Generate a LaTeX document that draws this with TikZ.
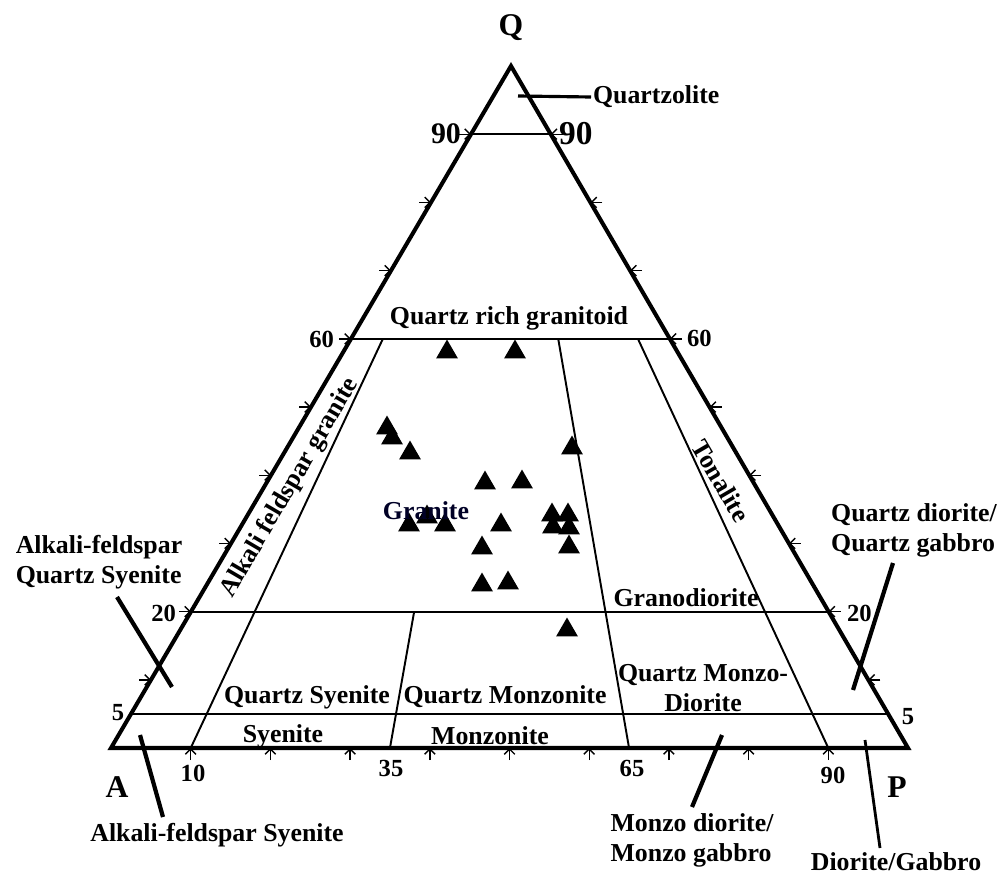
\documentclass[tikz,border=0pt]{standalone}
\usepackage{fontspec}
\setmainfont{Liberation Serif}
\usetikzlibrary{calc,arrows.meta,shapes.geometric}

\tikzset{
  lbl/.style={font=\fontsize{14.7}{17}\selectfont\bfseries, inner sep=1pt},
  num/.style={font=\fontsize{14}{16}\selectfont\bfseries, inner sep=1pt},
  corner/.style={font=\fontsize{18}{20}\selectfont\bfseries, inner sep=1pt},
  sample/.style={regular polygon, regular polygon sides=3, fill=black, inner sep=0pt, minimum size=0.5cm},
  tick/.style={-{Straight Barb[length=3pt,width=6pt]}, line width=0.8pt},
  leader/.style={line width=2.4pt},
  field/.style={line width=1.1pt},
}

\begin{document}
\begin{tikzpicture}[x=0.02cm, y=-0.02cm]
    \useasboundingbox (0,0) rectangle (1003,875);
    \coordinate (A) at (111,748);
    \coordinate (P) at (908,748);
    \coordinate (Q) at (511,66);

    % base points of the P/(A+P) lines
    \coordinate (b10) at ($(A)!0.10!(P)$);
    \coordinate (b35) at ($(A)!0.35!(P)$);
    \coordinate (b65) at ($(A)!0.65!(P)$);
    \coordinate (b90) at ($(A)!0.90!(P)$);

    % field boundaries
    \draw[field] ($(A)!0.90!(Q)$) -- ($(P)!0.90!(Q)$);
    \draw[field] ($(A)!0.60!(Q)$) -- ($(P)!0.60!(Q)$);
    \draw[field] ($(A)!0.20!(Q)$) -- ($(P)!0.20!(Q)$);
    \draw[field] ($(A)!0.05!(Q)$) -- ($(P)!0.05!(Q)$);
    \draw[field] ($(b10)!0.6!(Q)$) -- (b10);
    \draw[field] ($(b35)!0.2!(Q)$) -- (b35);
    \draw[field] ($(b65)!0.6!(Q)$) -- (b65);
    \draw[field] ($(b90)!0.6!(Q)$) -- (b90);

    \draw[line width=2.3pt, line join=miter] (A) -- (P) -- (Q) -- cycle;

    % ticks
    \foreach \q in {0.1,0.2,0.3,0.4,0.5,0.6,0.7,0.8,0.9} {
      \draw[tick] ($(A)!\q!(Q)+(-12,0)$) -- ($(A)!\q!(Q)$);
      \draw[tick] ($(P)!\q!(Q)+(12,0)$) -- ($(P)!\q!(Q)$);
      \draw[tick] ($(A)!\q!(P)+(0,12)$) -- ($(A)!\q!(P)$);
    }

    % apices
    \node[corner] (qlab) at (511,28) {Q};
    \node[corner] (alab) at (117,787) {A};
    \node[corner] (plab) at (897,787) {P};

    % scale numbers
    \node[num, anchor=east, font=\fontsize{17}{19}\selectfont\bfseries] (l90) at (463,134) {90};
    \node[num, anchor=west, font=\fontsize{19}{21}\selectfont\bfseries] (r90) at (557,134) {90};
    \node[num, anchor=east] (l60) at (336,339) {60};
    \node[num, anchor=west] (r60) at (685,338) {60};
    \node[num, anchor=east] (l20) at (178,613) {20};
    \node[num, anchor=west] (r20) at (845,613) {20};
    \node[num] (l5) at (118,713) {5};
    \node[num] (r5) at (908,717) {5};
    \node[num] (n10) at (193,773) {10};
    \node[num] (n35) at (391,768) {35};
    \node[num] (n65) at (632,768) {65};
    \node[num] (n90) at (833,775) {90};

    % fields
    \node[lbl] (qrg) at (509,318) {Quartz rich granitoid};
    \node[lbl, rotate=59.6] (afg) at (290,488) {Alkali feldspar granite};
    \node[lbl, rotate=-59.8] (tonalite) at (721,481) {Tonalite};
    \node[lbl] (granodiorite) at (686,598) {Granodiorite};
    \node[lbl] (qsyenite) at (307,697) {Quartz Syenite};
    \node[lbl] (syenite) at (283,736) {Syenite};
    \node[lbl] (qmonzonite) at (505,697) {Quartz Monzonite};
    \node[lbl] (monzonite) at (490,736) {Monzonite};
    \node[lbl, align=center] (qmd) at (703,688) {Quartz Monzo-\\Diorite};

    % samples
    \foreach \x/\y [count=\i] in {387/428,392/438,410/453,485/483,522/482,572/448,
        409/525,445/525,501/525,552/515,568/515,553/527,569/528,569/547,
        482/548,482/585,508/583,567/630,447/352,515/352} {
      \node[sample] (s\i) at (\x,\y) {};
    }
    \node[sample] (s21) at (427,517) {};
    \node[lbl, text=black!85!blue] (granite) at (426,511) {Granite};

    % outside labels with leaders
    \node[lbl, anchor=west] (quartzolite) at (591,97) {Quartzolite};
    \node[lbl, align=left] (afqs) at (99,562) {Alkali-feldspar\\Quartz Syenite};
    \node[lbl] (afs) at (217,835) {Alkali-feldspar Syenite};
    \node[lbl, align=left] (qdqg) at (914,530) {Quartz diorite/\\Quartz gabbro};
    \node[lbl, align=left] (mdmg) at (692,840) {Monzo diorite/\\Monzo gabbro};
    \node[lbl] (dg) at (896,862) {Diorite/Gabbro};

    \coordinate (qz) at (518,96);
    \coordinate (afqs1) at (117,597);
    \coordinate (afqs2) at (172,687);
    \coordinate (afs1) at (163,817);
    \coordinate (afs2) at (140,735);
    \coordinate (qdqg1) at (893,563);
    \coordinate (qdqg2) at (853,690);
    \coordinate (mdmg1) at (692,807);
    \coordinate (mdmg2) at (722,735);
    \coordinate (dg1) at (880,848);
    \coordinate (dg2) at (865,740);

    \draw[leader, line width=1.8pt] (qz) -- (quartzolite.west);
    \draw[leader] (afqs1) -- (afqs2);
    \draw[leader] (afs1) -- (afs2);
    \draw[leader] (qdqg1) -- (qdqg2);
    \draw[leader] (mdmg1) -- (mdmg2);
    \draw[line width=1.6pt] (dg1) -- (dg2);
\end{tikzpicture}
\end{document}
